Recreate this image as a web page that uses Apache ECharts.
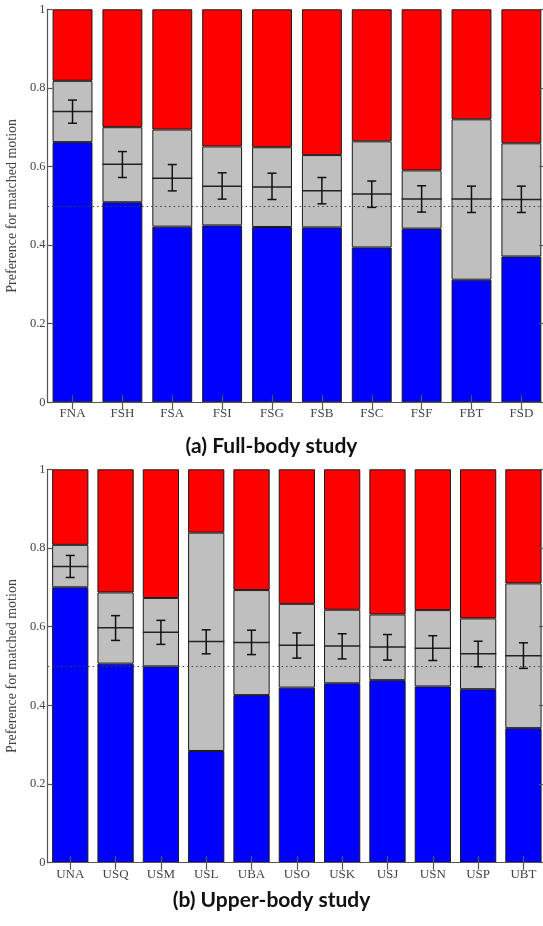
<!DOCTYPE html>
<html>
<head>
<meta charset="utf-8">
<script src="https://cdn.jsdelivr.net/npm/echarts@6/dist/echarts.min.js"></script>
<style>
html,body{margin:0;padding:0;background:#fff;}
#chart{width:543px;height:926px;}
</style>
</head>
<body>
<div id="chart"></div>
<script>
// ---- Data: (a) Full-body study ----
const catsA    = ['FNA','FSH','FSA','FSI','FSG','FSB','FSC','FSF','FBT','FSD'];
const blueA    = [0.662,0.509,0.447,0.450,0.446,0.445,0.394,0.442,0.312,0.371];
const grayTopA = [0.818,0.700,0.694,0.651,0.649,0.629,0.664,0.590,0.720,0.659];
const meanA    = [0.740,0.606,0.570,0.550,0.548,0.538,0.530,0.517,0.517,0.516];
const errLoA   = [0.710,0.572,0.538,0.517,0.516,0.505,0.496,0.484,0.483,0.483];
const errHiA   = [0.769,0.638,0.605,0.584,0.583,0.572,0.563,0.551,0.550,0.550];

// ---- Data: (b) Upper-body study ----
const catsB    = ['UNA','USQ','USM','USL','UBA','USO','USK','USJ','USN','USP','UBT'];
const blueB    = [0.700,0.506,0.499,0.284,0.426,0.445,0.456,0.464,0.448,0.441,0.342];
const grayTopB = [0.808,0.687,0.673,0.839,0.693,0.658,0.643,0.631,0.642,0.621,0.710];
const meanB    = [0.753,0.597,0.586,0.562,0.560,0.553,0.551,0.548,0.545,0.531,0.526];
const errLoB   = [0.725,0.565,0.555,0.531,0.529,0.520,0.518,0.515,0.514,0.498,0.494];
const errHiB   = [0.781,0.628,0.616,0.592,0.591,0.584,0.582,0.580,0.577,0.563,0.559];

const yTicks = [0, 0.2, 0.4, 0.6, 0.8, 1];
const chanceLevel = 0.5;
const titleA = '(a) Full-body study';
const titleB = '(b) Upper-body study';
const yName = 'Preference for matched motion';

const SERIF = '"Liberation Serif", "DejaVu Serif", serif';
const AXIS_COLOR = '#555';
const LABEL_COLOR = '#444';

function xAxesFor(gridIndex, cats) {
  return [
    {
      type: 'category', gridIndex, data: cats, position: 'bottom', z: 10,
      axisLine: {show: true, lineStyle: {color: AXIS_COLOR, width: 1.2}},
      axisTick: {show: true, inside: true, alignWithLabel: true, length: 7, lineStyle: {color: AXIS_COLOR, width: 1.2}},
      axisLabel: {show: true, fontFamily: SERIF, fontSize: 13, color: LABEL_COLOR, margin: 5},
      splitLine: {show: false}
    },
    {
      type: 'category', gridIndex, data: cats, position: 'top', z: 10,
      axisLine: {show: true, lineStyle: {color: AXIS_COLOR, width: 1.2}},
      axisTick: {show: true, inside: true, alignWithLabel: true, length: 7, lineStyle: {color: AXIS_COLOR, width: 1.2}},
      axisLabel: {show: false},
      splitLine: {show: false}
    }
  ];
}
function yAxesFor(gridIndex) {
  return [
    {
      type: 'value', gridIndex, min: 0, max: 1, interval: 0.2, position: 'left', z: 10,
      name: yName, nameLocation: 'middle', nameGap: 25,
      nameTextStyle: {fontFamily: SERIF, fontSize: 14, color: LABEL_COLOR},
      axisLine: {show: true, lineStyle: {color: AXIS_COLOR, width: 1.2}},
      axisTick: {show: true, inside: true, length: 5, lineStyle: {color: AXIS_COLOR, width: 1.2}},
      axisLabel: {fontFamily: SERIF, fontSize: 12.5, color: LABEL_COLOR, margin: 2,
                  formatter: v => String(+v.toFixed(1))},
      splitLine: {show: false}
    },
    {
      type: 'value', gridIndex, min: 0, max: 1, interval: 0.2, position: 'right', z: 10,
      axisLine: {show: true, lineStyle: {color: AXIS_COLOR, width: 1.2}},
      axisTick: {show: true, inside: true, length: 7, lineStyle: {color: AXIS_COLOR, width: 1.2}},
      axisLabel: {show: false},
      splitLine: {show: false}
    }
  ];
}

function seriesFor(xi, yi, cats, blue, grayTop, mean, lo, hi) {
  const edge = {borderColor: '#1a1a1a', borderWidth: 1};
  const base = {type: 'bar', xAxisIndex: xi, yAxisIndex: yi, stack: 's' + xi, barWidth: '80%', silent: true};
  return [
    Object.assign({}, base, {name: 'matched', data: blue.slice(), itemStyle: Object.assign({color: '#0000ff'}, edge)}),
    Object.assign({}, base, {name: 'tie', data: grayTop.map((g, i) => +(g - blue[i]).toFixed(4)), itemStyle: Object.assign({color: '#bfbfbf'}, edge)}),
    Object.assign({}, base, {name: 'other', data: grayTop.map(g => +(1 - g).toFixed(4)), itemStyle: Object.assign({color: '#ff0000'}, edge)}),
    {
      type: 'custom', xAxisIndex: xi, yAxisIndex: yi, z: 5, silent: true,
      data: cats.map((c, i) => [i, mean[i], lo[i], hi[i]]),
      encode: {x: 0, y: 1},
      renderItem: function (params, api) {
        const idx = api.value(0);
        const pm = api.coord([idx, api.value(1)]);
        const pl = api.coord([idx, api.value(2)]);
        const ph = api.coord([idx, api.value(3)]);
        const bw = api.size([1, 0])[0] * 0.8;
        const cap = 4.5;
        const st = {stroke: '#111', lineWidth: 1.5, fill: null};
        return {
          type: 'group',
          children: [
            {type: 'line', shape: {x1: pm[0] - bw / 2, y1: pm[1], x2: pm[0] + bw / 2, y2: pm[1]}, style: {stroke: '#222', lineWidth: 1.5}},
            {type: 'line', shape: {x1: pl[0], y1: pl[1], x2: ph[0], y2: ph[1]}, style: st},
            {type: 'line', shape: {x1: pl[0] - cap, y1: pl[1], x2: pl[0] + cap, y2: pl[1]}, style: st},
            {type: 'line', shape: {x1: ph[0] - cap, y1: ph[1], x2: ph[0] + cap, y2: ph[1]}, style: st}
          ]
        };
      },
      markLine: {
        silent: true, symbol: ['none', 'none'], label: {show: false},
        lineStyle: {type: [1.5, 3], color: '#444', width: 1.2},
        data: [{yAxis: chanceLevel}]
      }
    }
  ];
}

const chart = echarts.init(document.getElementById('chart'), null, {renderer: 'canvas'});
chart.setOption({
  animation: false,
  backgroundColor: '#fff',
  title: [
    {text: titleA, left: 'center', top: 436, padding: 0,
     textStyle: {fontFamily: 'Lato, "Open Sans", sans-serif', fontWeight: 'bold', fontSize: 21, color: '#111'}},
    {text: titleB, left: 'center', top: 890, padding: 0,
     textStyle: {fontFamily: 'Lato, "Open Sans", sans-serif', fontWeight: 'bold', fontSize: 21, color: '#111'}}
  ],
  grid: [
    {left: 47.6, top: 9.3, width: 498.7, height: 393, outerBoundsMode: 'none', containLabel: false},
    {left: 47.6, top: 469.3, width: 498.5, height: 393.4, outerBoundsMode: 'none', containLabel: false}
  ],
  xAxis: [...xAxesFor(0, catsA), ...xAxesFor(1, catsB)],
  yAxis: [...yAxesFor(0), ...yAxesFor(1)],
  series: [
    ...seriesFor(0, 0, catsA, blueA, grayTopA, meanA, errLoA, errHiA),
    ...seriesFor(2, 2, catsB, blueB, grayTopB, meanB, errLoB, errHiB)
  ]
});
</script>
</body>
</html>
